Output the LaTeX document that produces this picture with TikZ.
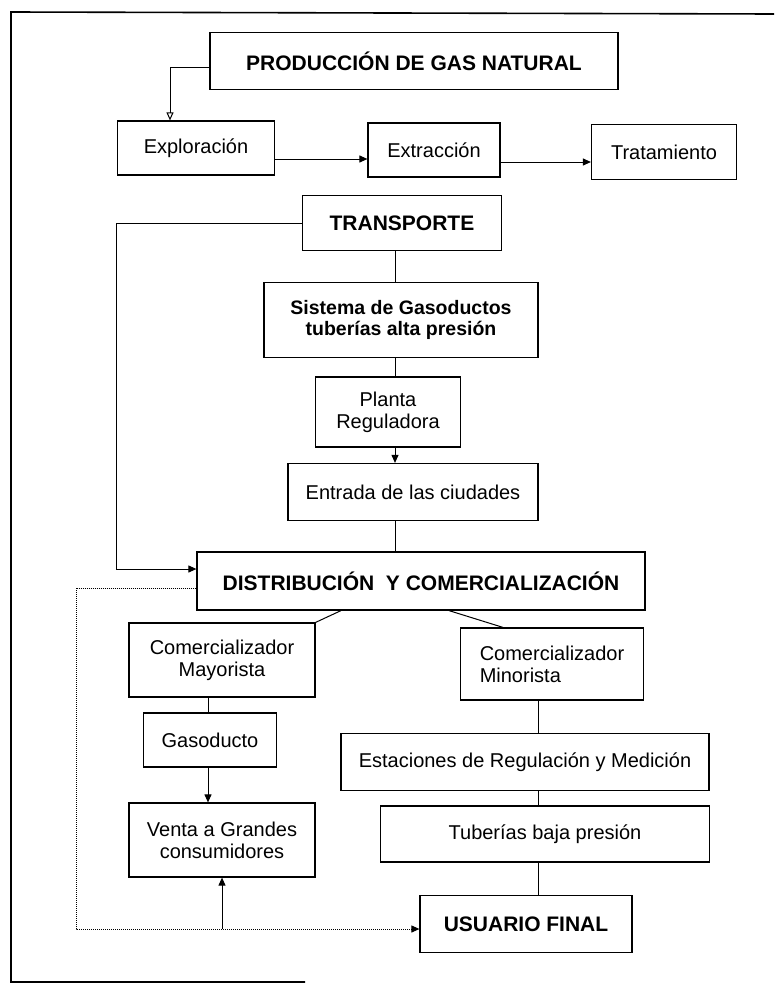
\documentclass[tikz,border=0pt]{standalone}
\usepackage{fontspec}
\setmainfont{Liberation Sans}
\usetikzlibrary{arrows.meta}
\tikzset{
  caja/.style={draw, line width=1.2pt, align=center, inner sep=0pt, font=\fontsize{20}{22}\selectfont},
  titulo/.style={caja, font=\fontsize{21}{24}\selectfont\bfseries},
  flecha/.style={line width=1pt, -{Triangle[length=8pt,width=7pt]}},
  linea/.style={line width=1pt}
}

\begin{document}
\begin{tikzpicture}[x=1pt, y=-1pt]
\useasboundingbox (0,0) rectangle (774,985);
\draw[line width=1.6pt] (774,14) -- (11,12) -- (11,982) -- (305,982);

\node[titulo, minimum width=408, minimum height=57] (prod) at (414,61) {PRODUCCIÓN DE GAS NATURAL};
\node[caja, minimum width=157, minimum height=54] (exploracion) at (196,148) {Exploración};
\node[caja, minimum width=132, minimum height=54] (extraccion) at (434,150) {Extracción};
\node[caja, minimum width=145, minimum height=55] (tratamiento) at (664,152) {Tratamiento};

\node[titulo, minimum width=199, minimum height=55] (transporte) at (402,223) {TRANSPORTE};
\node[caja, minimum width=274, minimum height=75, font=\fontsize{19.5}{21}\selectfont\bfseries] (sistema) at (401,320) {Sistema de Gasoductos\\tuberías alta presión};
\node[caja, minimum width=145, minimum height=70] (planta) at (388,412) {Planta\\Reguladora};
\node[caja, minimum width=250, minimum height=57] (entrada) at (413,492) {Entrada de las ciudades};

\node[titulo, minimum width=448, minimum height=58] (distribucion) at (421,581) {DISTRIBUCIÓN\ \ Y COMERCIALIZACIÓN};
\node[caja, minimum width=186, minimum height=74] (mayorista) at (222,660) {Comercializador\\Mayorista};
\node[caja, minimum width=183, minimum height=72, align=left] (minorista) at (552,664) {Comercializador\\Minorista};
\node[caja, minimum width=133, minimum height=54] (gasoducto) at (210,740) {Gasoducto};
\node[caja, minimum width=186, minimum height=74] (venta) at (222,840) {Venta a Grandes\\consumidores};
\node[caja, minimum width=368, minimum height=57] (estaciones) at (525,762) {Estaciones de Regulación y Medición};
\node[caja, minimum width=329, minimum height=56] (tuberias) at (545,834) {Tuberías baja presión};
\node[titulo, minimum width=212, minimum height=57] (usuario) at (526,924) {USUARIO FINAL};

\coordinate (eje) at (395,0);
\coordinate (ejeizq) at (208,0);
\coordinate (ejeder) at (538,0);
\coordinate (base) at ([yshift=-5]usuario.west);

\draw[line width=1pt, -{Triangle[open,length=8pt,width=7pt]}] ([yshift=-6]prod.west) -| ([xshift=-26]exploracion.north);
\draw[flecha] ([yshift=-11]exploracion.east) -- ([yshift=-11]exploracion.east -| extraccion.west);
\draw[flecha] ([yshift=-12]extraccion.east) -- ([yshift=-12]extraccion.east -| tratamiento.west);

\draw[flecha] (transporte.west) -- ++(-185,0) |- ([yshift=12]distribucion.west);
\draw[linea] (transporte.south -| eje) -- (sistema.north -| eje);
\draw[linea] (sistema.south -| eje) -- (planta.north -| eje);
\draw[flecha] (planta.south -| eje) -- (entrada.north -| eje);
\draw[linea] (entrada.south -| eje) -- (distribucion.north -| eje);

\draw[linea] ([xshift=-80]distribucion.south) -- (mayorista.north east);
\draw[linea] ([xshift=28]distribucion.south) -- ([xshift=-49]minorista.north);
\draw[linea] (mayorista.south -| ejeizq) -- (gasoducto.north -| ejeizq);
\draw[flecha] (gasoducto.south -| ejeizq) -- (venta.north -| ejeizq);
\draw[linea] (minorista.south -| ejeder) -- (estaciones.north -| ejeder);
\draw[linea] (estaciones.south -| ejeder) -- (tuberias.north -| ejeder);
\draw[linea] (tuberias.south -| ejeder) -- (usuario.north -| ejeder);

\draw[flecha, densely dotted] ([yshift=-7]distribucion.west) -- ++(-120,0) |- (base);
\draw[flecha] (venta.south |- base) -- (venta.south);
\end{tikzpicture}
\end{document}
